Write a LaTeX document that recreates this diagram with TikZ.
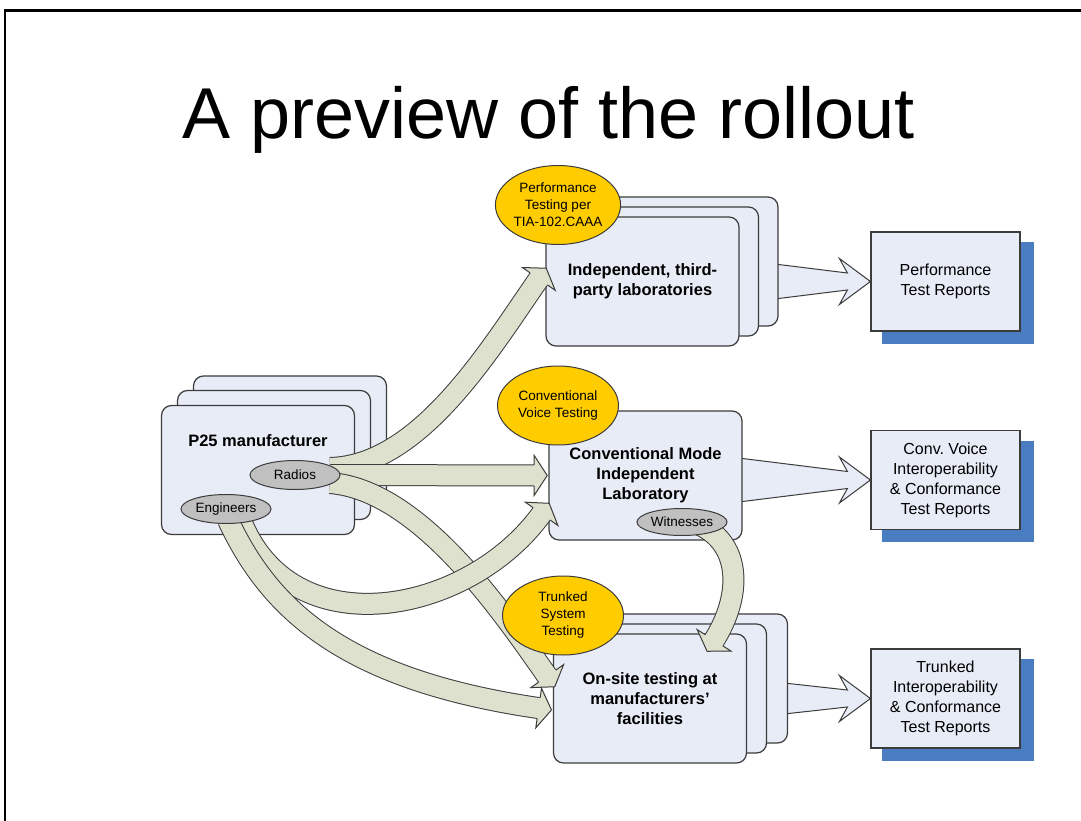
\documentclass[tikz,border=0pt]{standalone}
\usepackage{fontspec}
\setmainfont{Liberation Sans}
\usetikzlibrary{shapes.geometric,calc,decorations.markings}

\definecolor{boxfill}{RGB}{231,236,247}
\definecolor{boxline}{RGB}{60,60,60}
\definecolor{gold}{RGB}{255,204,0}
\definecolor{chip}{RGB}{192,192,192}
\definecolor{sage}{RGB}{221,225,205}
\definecolor{reportblue}{RGB}{74,124,194}

\pgfdeclarelayer{back}
\pgfdeclarelayer{flow}
\pgfdeclarelayer{front}
\pgfsetlayers{back,main,flow,front}

\tikzset{
  card/.style={draw=boxline, fill=boxfill, line width=1.2pt, rounded corners=10pt,
    minimum width=193pt, minimum height=129pt, inner sep=0pt, align=center,
    font=\fontsize{16.5}{20}\selectfont\bfseries},
  report/.style={draw=boxline, fill=boxfill, line width=1.2pt,
    minimum width=149pt, minimum height=99pt, inner sep=0pt, align=center,
    font=\fontsize{16}{20}\selectfont},
  badge/.style={ellipse, draw=boxline, fill=gold, line width=1pt,
    minimum width=121pt, minimum height=79pt, inner sep=0pt, align=center,
    font=\fontsize{13.5}{17}\selectfont},
  tag/.style={ellipse, draw=boxline, fill=chip, line width=1pt,
    minimum width=90pt, minimum height=29pt, inner sep=0pt,
    font=\fontsize{13.5}{16}\selectfont},
  shaft/.style={draw=boxline, line width=1pt, double=sage, double distance=20pt,
    shorten >=12pt},
  flowhead/.style={decorate, decoration={markings, mark=at position 0.999 with {
      \fill[sage] (-13,-10.5) -- (-13,-20) -- (0,0) -- (-13,20) -- (-13,10.5) -- cycle;
      \draw[boxline, line width=1pt, line join=miter]
        (-13,-10.5) -- (-13,-20) -- (0,0) -- (-13,20) -- (-13,10.5);
  }}},
  outflow/.style={draw=boxline, fill=boxfill, line width=1pt, line join=miter}
}

% wide curved arrow: outlined shaft plus an outlined head at the end
\newcommand\flowarrow[1]{\draw[shaft] #1; \path[flowhead] #1;}
% block arrow from a testing box to its report box
\newcommand\reportarrow[3]{%
  \draw[outflow] ($(#1.east |- #2.west)+(-4,-#3)$)
    -- ($(#2.west)+(-23,-8.5)$) -- ($(#2.west)+(-31,-23)$) -- (#2.west)
    -- ($(#2.west)+(-31,23)$) -- ($(#2.west)+(-23,8.5)$)
    -- ($(#1.east |- #2.west)+(-4,#3)$) -- cycle;}

\begin{document}
\begin{tikzpicture}[x=1pt, y=-1pt]
\useasboundingbox (0,0) rectangle (1081,821);
\begin{pgfonlayer}{back}
  \fill[white] (0,0) rectangle (1081,821);
\end{pgfonlayer}

% slide frame
\draw[line width=2.5pt, line join=miter] (5,821) -- (5,10.3) -- (1081,10.3);

% title
\node[anchor=base, inner sep=0pt, font=\fontsize{72}{80}\selectfont] (title) at (548.5,139) {A preview of the rollout};

% manufacturer stack
\node[card] (p25c) at (290,440.5) {};
\node[card] (p25b) at (274,455) {};
\node[card] (p25a) at (258,470) {};
\node[font=\fontsize{16.5}{20}\selectfont\bfseries] (p25label) at (258,440.5) {P25 manufacturer};

% third-party laboratories stack
\node[card] (indepC) at (681.5,261.5) {};
\node[card] (indepB) at (662,271.5) {};
\node[card] (indepA) at (642.5,281.5) {Independent, third-\\party laboratories};

% conventional mode laboratory
\node[card] (conv) at (645.5,475.5) {Conventional Mode\\Independent\\Laboratory};

% on-site testing stack
\node[card] (onsiteC) at (691,678.5) {};
\node[card] (onsiteB) at (670,688.5) {};
\node[card] (onsiteA) at (650,698.5) {On-site testing at\\manufacturers’\\facilities};

% report boxes
\node[report] (perfrep) at (945.5,281.5) {Performance\\Test Reports};
\node[report] (convrep) at (945.5,480) {Conv.\ Voice\\Interoperability\\\&~Conformance\\Test Reports};
\node[report] (trunkrep) at (945.5,698.5) {Trunked\\Interoperability\\\&~Conformance\\Test Reports};

% labels on top
\begin{pgfonlayer}{front}
  \node[badge] (perf) at (558,205) {Performance\\Testing per\\TIA-102.CAAA};
  \node[badge] (voice) at (558,405.5) {Conventional\\Voice Testing};
  \node[badge] (trunk) at (563,615.5) {Trunked\\System\\Testing};
  \node[tag] (radios) at (295,475) {Radios};
  \node[tag] (engineers) at (226,509) {Engineers};
  \node[tag, minimum height=27pt] (witnesses) at (682,522) {Witnesses};
\end{pgfonlayer}

% shadows and report arrows
\begin{pgfonlayer}{back}
  \foreach \r in {perfrep,convrep,trunkrep}
    \fill[reportblue] ($(\r.north west)+(12,11)$) rectangle ($(\r.south east)+(13,12)$);
  \reportarrow{indepC}{perfrep}{17.5}
  \reportarrow{conv}{convrep}{22}
  \reportarrow{onsiteC}{trunkrep}{15.5}
\end{pgfonlayer}

% flows of radios, engineers and witnesses
\begin{pgfonlayer}{flow}
  \flowarrow{($(radios.center)+(35,-7)$) .. controls +(90,-2) and +(-57,82) .. ($(indepA.west)+(1,-13.5)$)}
  \flowarrow{($(radios.center)+(35,0)$) -- ($(conv.west)+(-1,0)$)}
  \flowarrow{($(radios.center)+(35,8)$) .. controls +(90,7) and +(-52,-74) .. ($(onsiteA.west)+(2,-11.5)$)}
  \flowarrow{($(engineers.center)+(14,9)$) .. controls +(50,132) and +(-80,112) .. ($(conv.west)+(1,27.5)$)}
  \flowarrow{($(engineers.center)+(2,11)$) .. controls +(42,90) and +(-207,-30) .. ($(onsiteA.west)+(-1,11.5)$)}
  \flowarrow{($(witnesses.center)+(18,3)$) .. controls +(42,20) and +(35,-55) .. ($(onsiteA.north)+(57,18)$)}
\end{pgfonlayer}
\end{tikzpicture}
\end{document}
